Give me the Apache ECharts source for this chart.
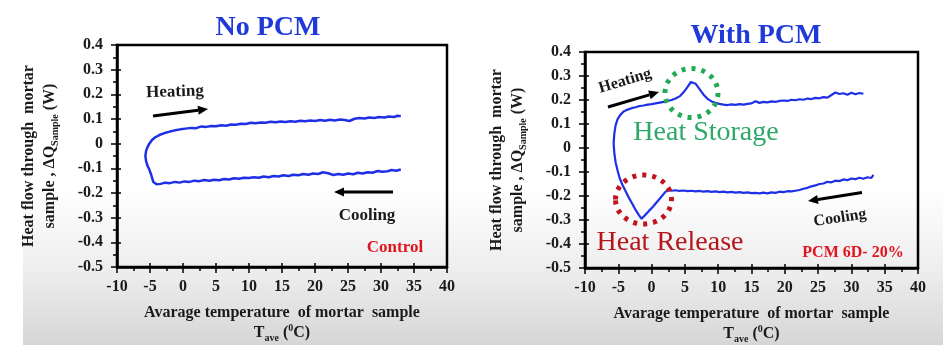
<!DOCTYPE html>
<html><head><meta charset="utf-8">
<script src="https://cdn.jsdelivr.net/npm/echarts@6/dist/echarts.min.js"></script>
<style>html,body{margin:0;padding:0;background:#fff}#c{width:943px;height:345px}</style>
</head><body><div id="c"></div>
<script>
// ---- data ----
const panelTitles = ['No PCM', 'With PCM'];
const sampleLabels = ['Control', 'PCM 6D- 20%'];
const xTickLabels = [-10, -5, 0, 5, 10, 15, 20, 25, 30, 35, 40];
const yTickLabels = [-0.5, -0.4, -0.3, -0.2, -0.1, 0, 0.1, 0.2, 0.3, 0.4];

// Control (No PCM): cooling branch (33 -> -4), knee, heating branch (-5.6 -> 33)
const noPcmT = [33.0,32.3,31.6,31.0,30.2,29.5,28.7,28.0,27.2,26.5,25.8,25.0,24.3,23.5,22.8,22.0,21.2,20.5,19.7,19.0,18.2,17.5,16.7,16.0,15.2,14.5,13.7,13.0,12.2,11.5,10.7,10.0,9.2,8.5,7.7,7.0,6.2,5.5,4.7,4.0,3.2,2.5,1.7,1.0,0.2,-0.5,-1.2,-2.0,-2.7,-3.4,-4.0,-4.3,-4.5,-4.8,-5.1,-5.4,-5.6,-5.7,-5.6,-5.4,-5.1,-4.7,-4.2,-3.5,-2.8,-2.0,-1.2,-0.4,0.4,1.2,2.0,2.8,3.5,4.3,5.0,5.8,6.5,7.3,8.0,8.8,9.5,10.3,11.0,11.8,12.5,13.3,14.0,14.8,15.5,16.3,17.0,17.8,18.5,19.3,20.0,20.8,21.5,22.3,23.0,23.8,24.5,25.2,26.0,26.7,27.5,28.2,29.0,29.7,30.5,31.2,32.0,32.5,33.0];
const noPcmQ = [-0.105,-0.110,-0.107,-0.112,-0.114,-0.111,-0.118,-0.116,-0.121,-0.118,-0.124,-0.121,-0.126,-0.123,-0.127,-0.120,-0.116,-0.123,-0.121,-0.126,-0.123,-0.128,-0.126,-0.131,-0.128,-0.133,-0.131,-0.136,-0.133,-0.138,-0.136,-0.139,-0.138,-0.142,-0.140,-0.145,-0.143,-0.148,-0.146,-0.150,-0.147,-0.152,-0.150,-0.155,-0.153,-0.158,-0.155,-0.160,-0.158,-0.163,-0.165,-0.168,-0.155,-0.128,-0.105,-0.088,-0.070,-0.050,-0.030,-0.015,0.000,0.015,0.026,0.036,0.043,0.049,0.054,0.058,0.061,0.064,0.063,0.070,0.068,0.072,0.071,0.075,0.073,0.078,0.077,0.081,0.080,0.085,0.083,0.086,0.085,0.089,0.087,0.090,0.088,0.091,0.089,0.093,0.091,0.094,0.092,0.096,0.093,0.097,0.094,0.098,0.096,0.092,0.101,0.104,0.102,0.106,0.104,0.108,0.106,0.110,0.108,0.113,0.111];

// PCM 6D-20%: cooling branch with heat-release dip, heating branch with heat-storage peak
const pcmT = [33.3,33.0,32.4,31.8,31.2,30.6,30.0,29.4,28.8,28.2,27.6,27.0,26.4,25.8,25.2,24.6,24.0,23.4,22.8,22.2,21.6,21.0,20.4,19.8,19.2,18.6,18.0,17.4,16.8,16.2,15.6,15.0,14.4,13.8,13.2,12.6,12.0,11.4,10.8,10.2,9.6,9.0,8.4,7.8,7.2,6.6,6.0,5.4,4.8,4.2,3.6,3.0,2.4,2.0,1.4,0.8,0.2,-0.4,-1.0,-1.5,-1.9,-2.4,-2.9,-3.4,-3.9,-4.4,-4.8,-5.1,-5.4,-5.6,-5.7,-5.6,-5.4,-5.1,-4.7,-4.2,-3.6,-3.0,-2.4,-1.8,-1.2,-0.6,0.0,0.6,1.2,1.8,2.4,3.0,3.6,4.2,4.8,5.4,5.9,6.2,6.6,7.2,7.8,8.4,9.0,9.6,10.2,10.8,11.4,12.0,12.6,13.2,13.8,14.4,15.0,15.6,16.2,16.8,17.4,18.0,18.6,19.2,19.8,20.4,21.0,21.6,22.2,22.8,23.4,24.0,24.6,25.2,25.8,26.4,27.0,27.6,28.2,28.8,29.4,30.0,30.6,31.2,31.8];
const pcmQ = [-0.112,-0.125,-0.122,-0.128,-0.124,-0.130,-0.127,-0.134,-0.131,-0.138,-0.136,-0.143,-0.141,-0.148,-0.150,-0.156,-0.160,-0.166,-0.170,-0.175,-0.178,-0.181,-0.180,-0.184,-0.182,-0.187,-0.185,-0.189,-0.186,-0.189,-0.187,-0.188,-0.185,-0.187,-0.184,-0.186,-0.183,-0.185,-0.182,-0.184,-0.181,-0.183,-0.180,-0.182,-0.179,-0.181,-0.178,-0.180,-0.177,-0.179,-0.176,-0.178,-0.176,-0.185,-0.205,-0.225,-0.245,-0.262,-0.280,-0.295,-0.280,-0.258,-0.232,-0.208,-0.180,-0.152,-0.125,-0.095,-0.060,-0.020,0.020,0.060,0.095,0.120,0.138,0.152,0.160,0.166,0.170,0.175,0.177,0.181,0.183,0.186,0.189,0.192,0.196,0.200,0.206,0.215,0.232,0.255,0.275,0.282,0.268,0.245,0.222,0.205,0.194,0.188,0.184,0.181,0.179,0.182,0.180,0.183,0.181,0.184,0.186,0.195,0.188,0.192,0.190,0.194,0.192,0.196,0.198,0.196,0.201,0.199,0.203,0.201,0.206,0.204,0.209,0.207,0.212,0.210,0.221,0.231,0.225,0.228,0.222,0.230,0.224,0.229,0.226];

// ---- chart ----
const serif = 'Liberation Serif';
const ink = '#1a1a1a';
const lineBlue = '#1f2fe6';
const pairs = (xs, ys) => xs.map((x, i) => [x, ys[i]]);

function xAx(gi) {
  return {
    type: 'value', gridIndex: gi,
    min: xTickLabels[0], max: xTickLabels[xTickLabels.length - 1], interval: 5,
    axisLine: { show: true, onZero: false, lineStyle: { color: '#000', width: 2.5 } },
    axisTick: { show: true, inside: false, length: 6, lineStyle: { color: '#000', width: 1.5 } },
    minorTick: { show: true, splitNumber: 2, length: 4, lineStyle: { color: '#000', width: 1.5 } },
    splitLine: { show: false },
    axisLabel: { color: ink, fontFamily: serif, fontWeight: 'bold', fontSize: 16, margin: 12 },
    name: '{b|Avarage temperature  of mortar  sample}\n{b|T}{s|ave}{b| (}{p|0}{b|C)}',
    nameLocation: 'middle', nameGap: 36,
    nameTextStyle: {
      rich: {
        b: { fontFamily: serif, fontWeight: 'bold', fontSize: 16, color: ink, lineHeight: 20 },
        s: { fontFamily: serif, fontWeight: 'bold', fontSize: 10, color: ink, lineHeight: 11, verticalAlign: 'bottom' },
        p: { fontFamily: serif, fontWeight: 'bold', fontSize: 10, color: ink, lineHeight: 10, verticalAlign: 'top' }
      }
    }
  };
}
function yAx(gi) {
  return {
    type: 'value', gridIndex: gi,
    min: yTickLabels[0], max: yTickLabels[yTickLabels.length - 1], interval: 0.1,
    axisLine: { show: true, onZero: false, lineStyle: { color: '#000', width: 2.5 } },
    axisTick: { show: true, inside: false, length: 6, lineStyle: { color: '#000', width: 1.5 } },
    minorTick: { show: true, splitNumber: 2, length: 4, lineStyle: { color: '#000', width: 1.5 } },
    splitLine: { show: false },
    axisLabel: { color: ink, fontFamily: serif, fontWeight: 'bold', fontSize: 16, margin: 14,
      formatter: v => String(Math.round(v * 10) / 10) },
    name: '{b|Heat flow through  mortar}\n{b|sample , ΔQ}{s|Sample}{b| (W)}',
    nameLocation: 'middle', nameRotate: 90, nameGap: 57,
    nameTextStyle: {
      rich: {
        b: { fontFamily: serif, fontWeight: 'bold', fontSize: 16, color: ink, lineHeight: 21 },
        s: { fontFamily: serif, fontWeight: 'bold', fontSize: 10, color: ink, lineHeight: 11, verticalAlign: 'bottom' }
      }
    }
  };
}
// inner halves of the major ticks (ticks cross the axis line)
function innerTicks(type, gi) {
  const isX = type === 'x';
  return {
    type: 'value', gridIndex: gi,
    min: isX ? xTickLabels[0] : yTickLabels[0],
    max: isX ? xTickLabels[xTickLabels.length - 1] : yTickLabels[yTickLabels.length - 1],
    interval: isX ? 5 : 0.1,
    position: isX ? 'bottom' : 'left',
    axisLine: { show: false, onZero: false },
    axisTick: { show: true, inside: true, length: 4, lineStyle: { color: '#000', width: 1.5 } },
    axisLabel: { show: false }, splitLine: { show: false }
  };
}

function arrow(x1, y1, x2, y2) {
  const a = Math.atan2(y2 - y1, x2 - x1), L = 10, W = 4.5;
  const bx = x2 - L * Math.cos(a), by = y2 - L * Math.sin(a);
  return [
    { type: 'line', z: 10, shape: { x1, y1, x2: bx, y2: by }, style: { stroke: '#000', lineWidth: 3 } },
    { type: 'polygon', z: 10, shape: { points: [[x2, y2], [bx - W * Math.sin(a), by + W * Math.cos(a)], [bx + W * Math.sin(a), by - W * Math.cos(a)]] }, style: { fill: '#000' } }
  ];
}
function txt(text, x, y, size, color, weight, rot) {
  return { type: 'text', z: 10, x, y, rotation: rot || 0,
    style: { text, x: 0, y: 0, align: 'center', verticalAlign: 'middle', fontFamily: serif, fontSize: size, fontWeight: weight, fill: color } };
}

const graphics = [
  { type: 'rect', z: -10, silent: true, shape: { x: 23, y: 0, width: 920, height: 345 },
    style: { fill: new echarts.graphic.LinearGradient(0, 0, 0, 1, [
      { offset: 0, color: '#ffffff' }, { offset: 0.55, color: '#ffffff' }, { offset: 0.8, color: '#ececec' }, { offset: 1, color: '#d6d6d6' }]) } },
  // left panel annotations
  txt('Heating', 175, 92, 17, ink, 'bold', 0.03),
  ...arrow(153, 116, 208, 109),
  ...arrow(393, 192, 334, 192),
  txt('Cooling', 367, 216, 17, ink, 'bold', 0),
  txt(sampleLabels[0], 395, 248, 17, '#e0141e', 'bold', 0),
  // right panel annotations
  txt('Heating', 625, 81, 16, ink, 'bold', 0.29),
  ...arrow(608, 107, 659, 92),
  { type: 'ellipse', z: 9, shape: { cx: 691.5, cy: 93, rx: 26.5, ry: 24.5 }, style: { fill: null, stroke: '#22aa55', lineWidth: 5, lineDash: [4, 6] } },
  txt('Heat Storage', 706, 133, 28, '#2ea866', 'normal', 0),
  { type: 'ellipse', z: 9, shape: { cx: 643.5, cy: 199.5, rx: 28, ry: 24.5 }, style: { fill: null, stroke: '#c0141c', lineWidth: 5, lineDash: [4, 6] } },
  txt('Heat Release', 670, 243, 28, '#b5161c', 'normal', 0),
  ...arrow(862, 192.5, 808, 201),
  txt('Cooling', 840, 218, 16, ink, 'bold', 0.15),
  txt(sampleLabels[1], 853, 253, 16, '#e0141e', 'bold', 0)
];

const chart = echarts.init(document.getElementById('c'), null, { renderer: 'canvas' });
chart.setOption({
  backgroundColor: '#ffffff',
  animation: false,
  title: [
    { text: panelTitles[0], left: 263, top: 9, textAlign: 'center',
      textStyle: { fontFamily: serif, fontWeight: 'bold', fontSize: 28, color: '#1f3ad8' } },
    { text: panelTitles[1], left: 751, top: 17, textAlign: 'center',
      textStyle: { fontFamily: serif, fontWeight: 'bold', fontSize: 28, color: '#1f3ad8' } }
  ],
  grid: [
    { left: 117, top: 45, right: 496, bottom: 78, outerBoundsMode: 'none', containLabel: false,
      show: true, borderColor: '#000', borderWidth: 2.5, backgroundColor: 'transparent' },
    { left: 585, top: 52, right: 25, bottom: 77, outerBoundsMode: 'none', containLabel: false,
      show: true, borderColor: '#000', borderWidth: 2.5, backgroundColor: 'transparent' }
  ],
  xAxis: [xAx(0), xAx(1), innerTicks('x', 0), innerTicks('x', 1)],
  yAxis: [yAx(0), yAx(1), innerTicks('y', 0), innerTicks('y', 1)],
  series: [
    { name: panelTitles[0], type: 'line', xAxisIndex: 0, yAxisIndex: 0, data: pairs(noPcmT, noPcmQ),
      showSymbol: false, symbol: 'none', lineStyle: { color: lineBlue, width: 2.5 } },
    { name: panelTitles[1], type: 'line', xAxisIndex: 1, yAxisIndex: 1, data: pairs(pcmT, pcmQ),
      showSymbol: false, symbol: 'none', lineStyle: { color: lineBlue, width: 2.2 } }
  ],
  graphic: graphics
});
</script>
</body></html>
